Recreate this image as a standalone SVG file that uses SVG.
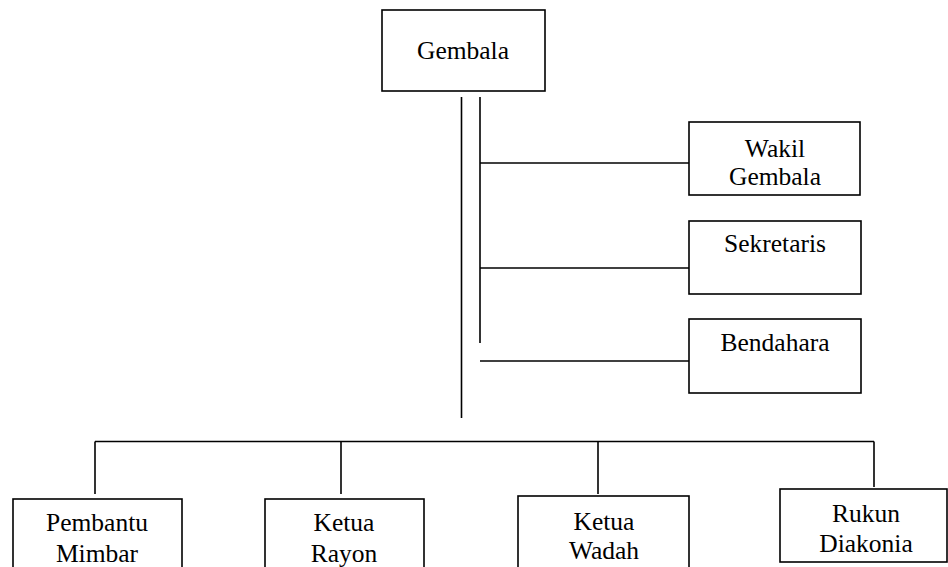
<svg xmlns="http://www.w3.org/2000/svg" width="948" height="567" viewBox="0 0 948 567">
<style>
.box{fill:#fff;stroke:#000;stroke-width:1.6}
.ln{stroke:#000;stroke-width:1.6;fill:none}
text{font-family:"Liberation Serif","Times New Roman",serif;font-size:25.5px;fill:#000;text-anchor:middle}
</style>
<rect width="948" height="567" fill="#fff"/>
<g id="connectors">
<line class="ln" x1="461.5" y1="97" x2="461.5" y2="418"/>
<line class="ln" x1="480" y1="97" x2="480" y2="343"/>
<line class="ln" x1="480" y1="163" x2="689" y2="163"/>
<line class="ln" x1="480" y1="268" x2="689" y2="268"/>
<line class="ln" x1="480" y1="361" x2="689" y2="361"/>
<line class="ln" x1="95" y1="441.5" x2="874" y2="441.5"/>
<line class="ln" x1="95" y1="441.5" x2="95" y2="494"/>
<line class="ln" x1="341" y1="441.5" x2="341" y2="494"/>
<line class="ln" x1="598" y1="441.5" x2="598" y2="494"/>
<line class="ln" x1="874" y1="441.5" x2="874" y2="487"/>
</g>
<g id="gembala">
<rect class="box" x="382" y="10" width="163" height="81"/>
<text x="463" y="59">Gembala</text>
</g>
<g id="wakil">
<rect class="box" x="689" y="122" width="171" height="73"/>
<text x="775" y="157">Wakil</text>
<text x="775" y="185">Gembala</text>
</g>
<g id="sekretaris">
<rect class="box" x="689" y="221" width="172" height="73"/>
<text x="775" y="252">Sekretaris</text>
</g>
<g id="bendahara">
<rect class="box" x="689" y="319" width="172" height="74"/>
<text x="775" y="351">Bendahara</text>
</g>
<g id="pembantu">
<rect class="box" x="13" y="499" width="169" height="80"/>
<text x="97" y="531">Pembantu</text>
<text x="97" y="562">Mimbar</text>
</g>
<g id="rayon">
<rect class="box" x="265" y="499" width="159" height="80"/>
<text x="344" y="531">Ketua</text>
<text x="344" y="562">Rayon</text>
</g>
<g id="wadah">
<rect class="box" x="518" y="496" width="171" height="80"/>
<text x="604" y="530">Ketua</text>
<text x="604" y="559">Wadah</text>
</g>
<g id="rukun">
<rect class="box" x="780" y="489" width="167" height="73"/>
<text x="866" y="522">Rukun</text>
<text x="866" y="552">Diakonia</text>
</g>
</svg>
